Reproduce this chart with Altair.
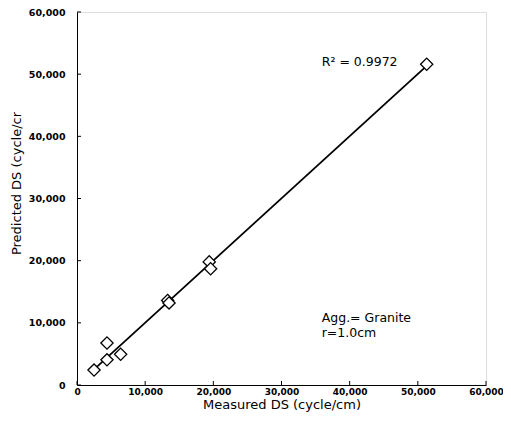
import altair as alt
import pandas as pd

measured = [2500, 4400, 4400, 6400, 13300, 13500, 19400, 19600, 51300]
predicted = [2400, 6750, 4050, 4950, 13600, 13200, 19800, 18700, 51600]

tick_values = [0, 10000, 20000, 30000, 40000, 50000, 60000]

notes_x = [35900, 35900, 35900]
notes_y = [51950, 10750, 8350]
notes_text = ["R\u00b2 = 0.9972", "Agg.= Granite", "r=1.0cm"]

df = pd.DataFrame({"m": measured, "p": predicted})
notes = pd.DataFrame({"x": notes_x, "y": notes_y, "t": notes_text})
ticks = pd.DataFrame({"v": tick_values})

FONT = "DejaVu Sans"
W, H = 409, 373

xs = alt.Scale(domain=[0, 60000], nice=False, zero=True)
ys = alt.Scale(domain=[0, 60000], nice=False, zero=True)

xaxis = alt.Axis(values=tick_values, format=",d",
                 grid=False, ticks=False, tickSize=0, domainColor="black",
                 labelFont=FONT, labelFontSize=9, labelFontWeight="bold", labelColor="black",
                 labelPadding=2, titleFont=FONT, titleFontSize=13, titleFontWeight="normal",
                 titleColor="black", titlePadding=2, labelFlush=False)
yaxis = alt.Axis(values=tick_values, format=",d",
                 grid=False, ticks=False, tickSize=0, domainColor="black",
                 labelFont=FONT, labelFontSize=9.5, labelFontWeight="bold", labelColor="black",
                 labelPadding=12, titleFont=FONT, titleFontSize=13, titleFontWeight="normal",
                 titleColor="black", titleX=-54, titleY=171, titleAngle=-90, labelFlush=False)

base = alt.Chart(df)

line = base.mark_line(color="black", strokeWidth=1.8).transform_regression(
    "m", "p"
).encode(
    x=alt.X("m:Q", scale=xs, axis=xaxis, title="Measured DS (cycle/cm)"),
    y=alt.Y("p:Q", scale=ys, axis=yaxis, title="Predicted DS (cycle/cr"),
)

pts = base.mark_point(shape="diamond", size=150, filled=False, fill="white",
                      fillOpacity=1, stroke="black", strokeWidth=1.3, opacity=1).encode(
    x=alt.X("m:Q", scale=xs),
    y=alt.Y("p:Q", scale=ys),
)

txt = alt.Chart(notes).mark_text(align="left", baseline="middle", font=FONT,
                                 fontSize=12.5, color="black").encode(
    x=alt.X("x:Q", scale=xs),
    y=alt.Y("y:Q", scale=ys),
    text="t:N",
)

xticks = alt.Chart(ticks).mark_rule(color="black", strokeWidth=1).encode(
    x=alt.X("v:Q", scale=xs),
    y=alt.value(H),
    y2=alt.value(H - 4),
)
yticks = alt.Chart(ticks).mark_rule(color="black", strokeWidth=1).encode(
    y=alt.Y("v:Q", scale=ys),
    x=alt.value(0),
    x2=alt.value(4),
)

chart = alt.layer(line, pts, txt, xticks, yticks).properties(
    width=W, height=H,
    autosize=alt.AutoSizeParams(type="none"),
    padding={"left": 69, "top": 4, "right": 17, "bottom": 30},
).configure_view(stroke="black", strokeWidth=1).configure(background="white")

chart.save("out.html", embed_options={"renderer": "svg", "actions": False})
